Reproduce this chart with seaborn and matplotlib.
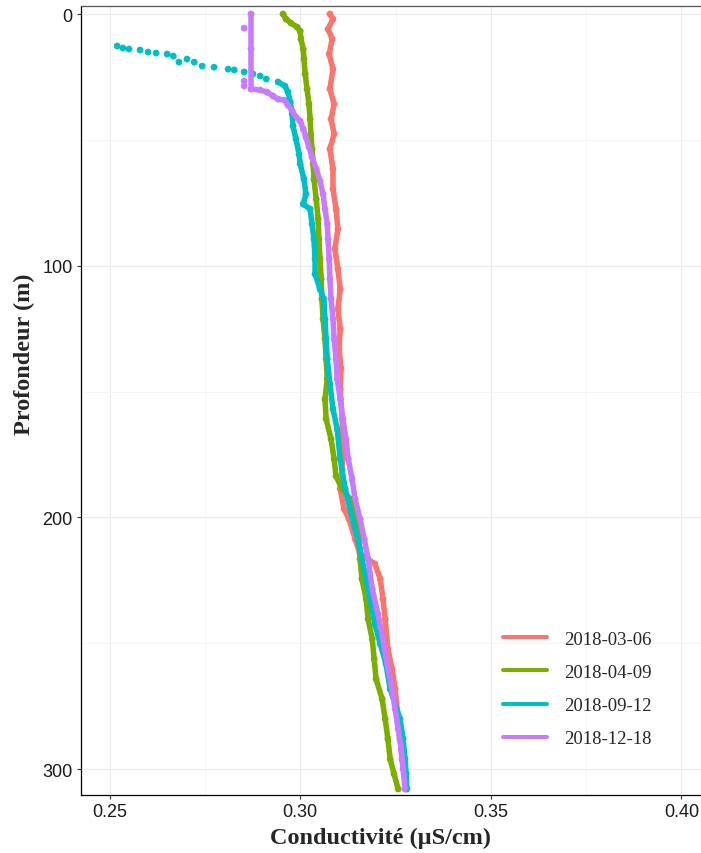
import numpy as np
import pandas as pd
import matplotlib
matplotlib.use("Agg")
import matplotlib.pyplot as plt
from matplotlib.lines import Line2D
from matplotlib.ticker import FixedLocator
import seaborn as sns

dates = ["2018-03-06", "2018-04-09", "2018-09-12", "2018-12-18"]
colors = ["#F8766D", "#7CAE00", "#00BFC4", "#C77CFF"]

# 2018-03-06
mar_depth = [0, 2.0, 6.0, 9.9, 15.9, 21.9, 29.8, 35.8, 41.7, 47.7, 53.6, 61.6, 69.5, 77.5,
             85.4, 93.4, 101.3, 109.3, 117.2, 125.1, 133.1, 141.0, 149.0, 160.9, 170.8,
             180.8, 188.7, 196.7, 200.6, 208.6, 214.5, 218.5, 224.5, 232.4, 240.4, 252.3,
             260.2, 268.2, 280.1, 288.0, 296.0, 301.9, 307.9]
mar_cond = [0.3078, 0.3086, 0.3073, 0.3084, 0.3076, 0.3086, 0.3078, 0.3089, 0.3081, 0.3089,
            0.3078, 0.3086, 0.3086, 0.3094, 0.3099, 0.3091, 0.3099, 0.3105, 0.3099, 0.3105,
            0.3102, 0.3107, 0.3105, 0.3110, 0.3112, 0.3110, 0.3105, 0.3115, 0.3128, 0.3144,
            0.3157, 0.3196, 0.3210, 0.3217, 0.3223, 0.3230, 0.3241, 0.3249, 0.3257, 0.3262,
            0.3267, 0.3273, 0.3278]

# 2018-04-09
apr_depth = [0, 2.0, 3.6, 5.2, 6.8, 9.9, 13.9, 17.9, 23.8, 29.8, 35.8, 41.7, 47.7, 53.6,
             59.6, 65.6, 73.5, 81.4, 89.4, 97.3, 105.3, 113.2, 121.2, 129.1, 137.1, 145.0,
             153.0, 160.9, 168.9, 176.8, 183.6, 188.7, 192.7, 196.7, 204.6, 216.5, 224.5,
             232.4, 240.4, 248.3, 256.3, 264.2, 272.2, 280.1, 288.0, 296.0, 301.9, 307.9]
apr_cond = [0.2955, 0.2963, 0.2976, 0.2992, 0.3000, 0.3002, 0.3008, 0.3010, 0.3013, 0.3018,
            0.3023, 0.3026, 0.3028, 0.3031, 0.3034, 0.3036, 0.3042, 0.3047, 0.3049, 0.3052,
            0.3055, 0.3057, 0.3060, 0.3065, 0.3068, 0.3071, 0.3065, 0.3068, 0.3081, 0.3089,
            0.3094, 0.3110, 0.3131, 0.3144, 0.3152, 0.3157, 0.3162, 0.3173, 0.3178, 0.3189,
            0.3194, 0.3199, 0.3215, 0.3223, 0.3230, 0.3236, 0.3246, 0.3257]

# 2018-09-12 : sparse surface samples, then the dense profile
sep_surface_depth = [12.7, 13.5, 13.9, 14.3, 15.1, 15.5, 15.9, 16.7, 19.1, 17.9, 19.1, 20.7,
                     21.1, 21.9, 22.2, 23.0, 23.8, 24.6, 25.8]
sep_surface_cond = [0.2520, 0.2535, 0.2551, 0.2580, 0.2601, 0.2622, 0.2651, 0.2667, 0.2682,
                    0.2703, 0.2722, 0.2743, 0.2774, 0.2811, 0.2827, 0.2853, 0.2876, 0.2895,
                    0.2911]
sep_depth = [27.0, 28.6, 31.0, 35.0, 39.7, 44.5, 49.7, 55.6, 59.6, 65.6, 71.5, 75.5, 77.5,
             83.4, 89.4, 97.3, 103.3, 109.3, 113.2, 121.2, 129.1, 137.1, 147.0, 156.9, 164.9,
             176.8, 188.7, 196.7, 204.6, 212.6, 222.5, 232.4, 242.4, 250.3, 258.2, 268.2,
             274.1, 280.1, 288.0, 296.0, 301.9, 307.9]
sep_cond = [0.2942, 0.2960, 0.2968, 0.2974, 0.2979, 0.2981, 0.2989, 0.2997, 0.3000, 0.3010,
            0.3015, 0.3008, 0.3026, 0.3031, 0.3036, 0.3039, 0.3039, 0.3052, 0.3062, 0.3065,
            0.3068, 0.3071, 0.3078, 0.3086, 0.3097, 0.3105, 0.3118, 0.3131, 0.3144, 0.3157,
            0.3170, 0.3183, 0.3196, 0.3210, 0.3225, 0.3236, 0.3249, 0.3262, 0.3270, 0.3275,
            0.3278, 0.3280]

# 2018-12-18 : a few stray surface samples, then the profile
dec_stray_depth = [5.6, 26.6, 28.6]
dec_stray_cond = [0.2853, 0.2853, 0.2853]
dec_depth = [0, 13.9, 29.8, 30.2, 31.0, 32.6, 33.8, 34.2, 36.2, 38.5, 40.9, 42.5, 45.7, 48.9,
             52.8, 56.8, 61.6, 66.3, 71.5, 77.5, 83.4, 89.4, 97.3, 105.3, 113.2, 121.2, 129.1,
             137.1, 145.0, 153.0, 160.9, 168.9, 176.8, 184.7, 192.7, 200.6, 208.6, 216.5,
             228.4, 238.4, 248.3, 258.2, 268.2, 276.1, 284.1, 292.0, 299.9, 307.9]
dec_cond = [0.2871, 0.2871, 0.2871, 0.2895, 0.2913, 0.2929, 0.2942, 0.2958, 0.2968, 0.2979,
            0.2989, 0.3000, 0.3008, 0.3015, 0.3023, 0.3031, 0.3042, 0.3052, 0.3060, 0.3065,
            0.3071, 0.3073, 0.3076, 0.3078, 0.3081, 0.3086, 0.3089, 0.3094, 0.3097, 0.3105,
            0.3112, 0.3120, 0.3126, 0.3136, 0.3144, 0.3157, 0.3168, 0.3178, 0.3189, 0.3204,
            0.3217, 0.3228, 0.3241, 0.3249, 0.3257, 0.3265, 0.3270, 0.3275]

profiles = pd.concat([
    pd.DataFrame({"date": dates[0], "depth": mar_depth, "cond": mar_cond}),
    pd.DataFrame({"date": dates[1], "depth": apr_depth, "cond": apr_cond}),
    pd.DataFrame({"date": dates[2], "depth": sep_depth, "cond": sep_cond}),
    pd.DataFrame({"date": dates[3], "depth": dec_depth, "cond": dec_cond}),
], ignore_index=True)
samples = pd.concat([
    profiles,
    pd.DataFrame({"date": dates[2], "depth": sep_surface_depth, "cond": sep_surface_cond}),
    pd.DataFrame({"date": dates[3], "depth": dec_stray_depth, "cond": dec_stray_cond}),
], ignore_index=True)

sns.set_theme(style="white")
plt.rcParams["font.family"] = ["Liberation Sans", "DejaVu Sans"]
palette = dict(zip(dates, colors))

fig = plt.figure(figsize=(7.01, 8.54), dpi=100)
ax = fig.add_axes([81 / 701, 1 - 796 / 854, 629 / 701, 789 / 854])

sns.lineplot(data=profiles, x="cond", y="depth", hue="date", hue_order=dates,
             palette=palette, sort=False, estimator=None, linewidth=4.0,
             legend=False, ax=ax)
sns.scatterplot(data=samples, x="cond", y="depth", hue="date", hue_order=dates,
                palette=palette, s=24, linewidth=0, legend=False, ax=ax)

ax.set_xlim(0.2425, 0.4075)
ax.set_ylim(310.3, -3.2)
ax.xaxis.set_major_locator(FixedLocator([0.25, 0.30, 0.35, 0.40]))
ax.xaxis.set_minor_locator(FixedLocator([0.275, 0.325, 0.375]))
ax.yaxis.set_major_locator(FixedLocator([0, 100, 200, 300]))
ax.yaxis.set_minor_locator(FixedLocator([50, 150, 250]))
ax.set_xticklabels(["0.25", "0.30", "0.35", "0.40"])
ax.set_yticklabels(["0", "100", "200", "300"])
ax.grid(which="major", color="#EBEBEB", linewidth=0.8)
ax.grid(which="minor", color="#F4F4F4", linewidth=0.6)
ax.set_axisbelow(True)
ax.tick_params(which="major", length=3, width=0.8, color="#333333", pad=3,
               labelsize=13, labelcolor="#1a1a1a", bottom=True, left=True)
ax.tick_params(which="minor", length=0)

for side in ["left", "bottom"]:
    ax.spines[side].set_color("black")
    ax.spines[side].set_linewidth(0.9)
ax.spines["top"].set_color("#555555")
ax.spines["top"].set_linewidth(0.9)
ax.spines["right"].set_visible(False)

label_font = dict(family=["Liberation Serif", "DejaVu Serif"], weight="bold", size=17.5)
ax.set_xlabel("Conductivité (µS/cm)", **label_font)
ax.set_ylabel("Profondeur (m)", **label_font)
ax.xaxis.set_label_coords((380.5 - 81) / 629, (796 - 838) / 789)
ax.xaxis.label.set_verticalalignment("center")
ax.yaxis.set_label_coords((24 - 81) / 629, (796 - 354.5) / 789)
ax.yaxis.label.set_verticalalignment("center")

handles = [Line2D([], [], color=c, linewidth=2.9) for c in colors]
ax.legend(handles, dates, loc="center left", frameon=False,
          bbox_to_anchor=(494 / 701, 1 - 690 / 854), bbox_transform=fig.transFigure,
          borderpad=0, handlelength=2.35, handletextpad=0.9, labelspacing=0.85,
          prop=dict(family=["Liberation Serif", "DejaVu Serif"], size=13.5))

fig.savefig("out.png", dpi=100)
